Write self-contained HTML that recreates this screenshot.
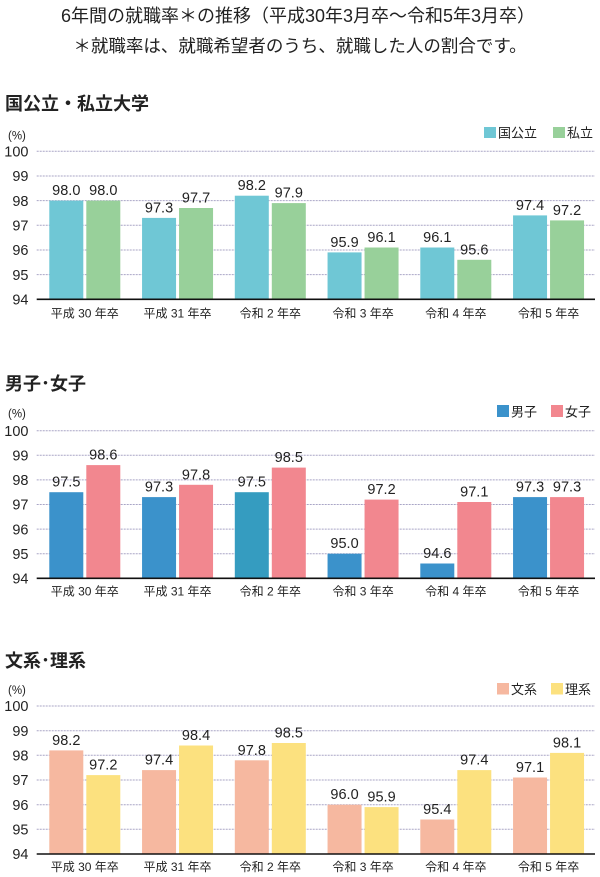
<!DOCTYPE html>
<html>
<head>
<meta charset="utf-8">
<style>
  html,body{margin:0;padding:0;background:#fff;}
  svg{display:block;}
  text{font-family:"Liberation Sans","Noto Sans CJK JP",sans-serif;fill:#222;}
  .t1{font-size:18px;}
  .t2{font-size:17.5px;}
  .h{font-size:18px;font-weight:bold;}
  .pc{font-size:11.5px;}
  .yl{font-size:14.5px;text-anchor:end;}
  .vl{font-size:14.5px;text-anchor:middle;}
  .cl{font-size:12px;text-anchor:middle;}
  .lg{font-size:13px;}
  .g{stroke:#a9a5c6;stroke-width:1;stroke-dasharray:2 1;}
  .ax{stroke:#111;stroke-width:1.6;}
</style>
</head>
<body>
<svg width="600" height="877" viewBox="0 0 600 877" xmlns="http://www.w3.org/2000/svg">
  <!-- Title -->
  <text class="t1" x="298" y="22" text-anchor="middle">6年間の就職率＊の推移（平成30年3月卒～令和5年3月卒）</text>
  <text class="t2" x="300" y="52" text-anchor="middle">＊就職率は、就職希望者のうち、就職した人の割合です。</text>

  <!-- ================= Chart 1 ================= -->
  <text class="h" x="5" y="110">国公立・私立大学</text>
  <text class="pc" x="8" y="139.5">(%)</text>
  <rect x="484" y="127" width="12" height="11" fill="#6fc7d5"/>
  <text class="lg" x="498" y="137.5">国公立</text>
  <rect x="553" y="127" width="12" height="11" fill="#98d09a"/>
  <text class="lg" x="567" y="137.5">私立</text>

  <line class="g" x1="36.7" y1="151.3" x2="595" y2="151.3"/>
  <line class="g" x1="36.7" y1="176.0" x2="595" y2="176.0"/>
  <line class="g" x1="36.7" y1="200.6" x2="595" y2="200.6"/>
  <line class="g" x1="36.7" y1="225.3" x2="595" y2="225.3"/>
  <line class="g" x1="36.7" y1="250.0" x2="595" y2="250.0"/>
  <line class="g" x1="36.7" y1="274.6" x2="595" y2="274.6"/>
  <text class="yl" x="28.5" y="156.5">100</text>
  <text class="yl" x="28.5" y="181.2">99</text>
  <text class="yl" x="28.5" y="205.8">98</text>
  <text class="yl" x="28.5" y="230.5">97</text>
  <text class="yl" x="28.5" y="255.2">96</text>
  <text class="yl" x="28.5" y="279.8">95</text>
  <text class="yl" x="28.5" y="304.5">94</text>

  <g fill="#6fc7d5">
    <rect x="49.3" y="200.6" width="34" height="98.7"/>
    <rect x="142.05" y="217.9" width="34" height="81.4"/>
    <rect x="234.8" y="195.7" width="34" height="103.6"/>
    <rect x="327.55" y="252.4" width="34" height="46.9"/>
    <rect x="420.3" y="247.5" width="34" height="51.8"/>
    <rect x="513.05" y="215.4" width="34" height="83.9"/>
  </g>
  <g fill="#98d09a">
    <rect x="86.3" y="200.6" width="34" height="98.7"/>
    <rect x="179.05" y="208.0" width="34" height="91.3"/>
    <rect x="271.8" y="203.1" width="34" height="96.2"/>
    <rect x="364.55" y="247.5" width="34" height="51.8"/>
    <rect x="457.3" y="259.8" width="34" height="39.5"/>
    <rect x="550.05" y="220.4" width="34" height="78.9"/>
  </g>
  <line class="ax" x1="36.7" y1="299.3" x2="595" y2="299.3"/>

  <text class="vl" x="66.3" y="195.1">98.0</text>
  <text class="vl" x="103.3" y="195.1">98.0</text>
  <text class="vl" x="159.05" y="212.4">97.3</text>
  <text class="vl" x="196.05" y="202.5">97.7</text>
  <text class="vl" x="251.8" y="190.2">98.2</text>
  <text class="vl" x="288.8" y="197.6">97.9</text>
  <text class="vl" x="344.55" y="246.9">95.9</text>
  <text class="vl" x="381.55" y="242.0">96.1</text>
  <text class="vl" x="437.3" y="242.0">96.1</text>
  <text class="vl" x="474.3" y="254.3">95.6</text>
  <text class="vl" x="530.05" y="209.9">97.4</text>
  <text class="vl" x="567.05" y="214.9">97.2</text>

  <text class="cl" x="84.8" y="317.3">平成 30 年卒</text>
  <text class="cl" x="177.55" y="317.3">平成 31 年卒</text>
  <text class="cl" x="270.3" y="317.3">令和 2 年卒</text>
  <text class="cl" x="363.05" y="317.3">令和 3 年卒</text>
  <text class="cl" x="455.8" y="317.3">令和 4 年卒</text>
  <text class="cl" x="548.55" y="317.3">令和 5 年卒</text>

  <!-- ================= Chart 2 ================= -->
  <text class="h" x="5" y="390">男子･女子</text>
  <text class="pc" x="8" y="417.5">(%)</text>
  <rect x="497" y="405" width="12" height="12" fill="#3b92cb"/>
  <text class="lg" x="511" y="416.5">男子</text>
  <rect x="551" y="405" width="12" height="12" fill="#f2878f"/>
  <text class="lg" x="565" y="416.5">女子</text>

  <line class="g" x1="36.7" y1="430.7" x2="595" y2="430.7"/>
  <line class="g" x1="36.7" y1="455.3" x2="595" y2="455.3"/>
  <line class="g" x1="36.7" y1="479.9" x2="595" y2="479.9"/>
  <line class="g" x1="36.7" y1="504.5" x2="595" y2="504.5"/>
  <line class="g" x1="36.7" y1="529.1" x2="595" y2="529.1"/>
  <line class="g" x1="36.7" y1="553.7" x2="595" y2="553.7"/>
  <text class="yl" x="28.5" y="435.9">100</text>
  <text class="yl" x="28.5" y="460.5">99</text>
  <text class="yl" x="28.5" y="485.1">98</text>
  <text class="yl" x="28.5" y="509.7">97</text>
  <text class="yl" x="28.5" y="534.3">96</text>
  <text class="yl" x="28.5" y="558.9">95</text>
  <text class="yl" x="28.5" y="583.5">94</text>

  <g fill="#3b92cb">
    <rect x="49.3" y="492.2" width="34" height="86.1"/>
    <rect x="142.05" y="497.1" width="34" height="81.2"/>
    <rect x="234.8" y="492.2" width="34" height="86.1" fill="#359cc0"/>
    <rect x="327.55" y="553.7" width="34" height="24.6"/>
    <rect x="420.3" y="563.5" width="34" height="14.8"/>
    <rect x="513.05" y="497.1" width="34" height="81.2"/>
  </g>
  <g fill="#f2878f">
    <rect x="86.3" y="465.1" width="34" height="113.2"/>
    <rect x="179.05" y="484.8" width="34" height="93.5"/>
    <rect x="271.8" y="467.6" width="34" height="110.7"/>
    <rect x="364.55" y="499.6" width="34" height="78.7"/>
    <rect x="457.3" y="502.0" width="34" height="76.3"/>
    <rect x="550.05" y="497.1" width="34" height="81.2"/>
  </g>
  <line class="ax" x1="36.7" y1="578.3" x2="595" y2="578.3"/>

  <text class="vl" x="66.3" y="486.7">97.5</text>
  <text class="vl" x="103.3" y="459.6">98.6</text>
  <text class="vl" x="159.05" y="491.6">97.3</text>
  <text class="vl" x="196.05" y="479.3">97.8</text>
  <text class="vl" x="251.8" y="486.7">97.5</text>
  <text class="vl" x="288.8" y="462.1">98.5</text>
  <text class="vl" x="344.55" y="548.2">95.0</text>
  <text class="vl" x="381.55" y="494.1">97.2</text>
  <text class="vl" x="437.3" y="558.0">94.6</text>
  <text class="vl" x="474.3" y="496.5">97.1</text>
  <text class="vl" x="530.05" y="491.6">97.3</text>
  <text class="vl" x="567.05" y="491.6">97.3</text>

  <text class="cl" x="84.8" y="595.3">平成 30 年卒</text>
  <text class="cl" x="177.55" y="595.3">平成 31 年卒</text>
  <text class="cl" x="270.3" y="595.3">令和 2 年卒</text>
  <text class="cl" x="363.05" y="595.3">令和 3 年卒</text>
  <text class="cl" x="455.8" y="595.3">令和 4 年卒</text>
  <text class="cl" x="548.55" y="595.3">令和 5 年卒</text>

  <!-- ================= Chart 3 ================= -->
  <text class="h" x="5" y="667">文系･理系</text>
  <text class="pc" x="8" y="694">(%)</text>
  <rect x="497" y="683" width="12" height="11.5" fill="#f6b8a0"/>
  <text class="lg" x="511" y="694">文系</text>
  <rect x="551" y="683" width="12" height="11.5" fill="#fce17f"/>
  <text class="lg" x="565" y="694">理系</text>

  <line class="g" x1="36.7" y1="706.0" x2="595" y2="706.0"/>
  <line class="g" x1="36.7" y1="730.7" x2="595" y2="730.7"/>
  <line class="g" x1="36.7" y1="755.3" x2="595" y2="755.3"/>
  <line class="g" x1="36.7" y1="780.0" x2="595" y2="780.0"/>
  <line class="g" x1="36.7" y1="804.7" x2="595" y2="804.7"/>
  <line class="g" x1="36.7" y1="829.3" x2="595" y2="829.3"/>
  <text class="yl" x="28.5" y="711.2">100</text>
  <text class="yl" x="28.5" y="735.9">99</text>
  <text class="yl" x="28.5" y="760.5">98</text>
  <text class="yl" x="28.5" y="785.2">97</text>
  <text class="yl" x="28.5" y="809.9">96</text>
  <text class="yl" x="28.5" y="834.5">95</text>
  <text class="yl" x="28.5" y="859.2">94</text>

  <g fill="#f6b8a0">
    <rect x="49.3" y="750.4" width="34" height="103.6"/>
    <rect x="142.05" y="770.1" width="34" height="83.9"/>
    <rect x="234.8" y="760.3" width="34" height="93.7"/>
    <rect x="327.55" y="804.7" width="34" height="49.3"/>
    <rect x="420.3" y="819.5" width="34" height="34.5"/>
    <rect x="513.05" y="777.5" width="34" height="76.5"/>
  </g>
  <g fill="#fce17f">
    <rect x="86.3" y="775.1" width="34" height="78.9"/>
    <rect x="179.05" y="745.5" width="34" height="108.5"/>
    <rect x="271.8" y="743.0" width="34" height="111.0"/>
    <rect x="364.55" y="807.1" width="34" height="46.9"/>
    <rect x="457.3" y="770.1" width="34" height="83.9"/>
    <rect x="550.05" y="752.9" width="34" height="101.1"/>
  </g>
  <line class="ax" x1="36.7" y1="854" x2="595" y2="854"/>

  <text class="vl" x="66.3" y="744.9">98.2</text>
  <text class="vl" x="103.3" y="769.6">97.2</text>
  <text class="vl" x="159.05" y="764.6">97.4</text>
  <text class="vl" x="196.05" y="740.0">98.4</text>
  <text class="vl" x="251.8" y="754.8">97.8</text>
  <text class="vl" x="288.8" y="737.5">98.5</text>
  <text class="vl" x="344.55" y="799.2">96.0</text>
  <text class="vl" x="381.55" y="801.6">95.9</text>
  <text class="vl" x="437.3" y="814.0">95.4</text>
  <text class="vl" x="474.3" y="764.6">97.4</text>
  <text class="vl" x="530.05" y="772.0">97.1</text>
  <text class="vl" x="567.05" y="747.4">98.1</text>

  <text class="cl" x="84.8" y="871">平成 30 年卒</text>
  <text class="cl" x="177.55" y="871">平成 31 年卒</text>
  <text class="cl" x="270.3" y="871">令和 2 年卒</text>
  <text class="cl" x="363.05" y="871">令和 3 年卒</text>
  <text class="cl" x="455.8" y="871">令和 4 年卒</text>
  <text class="cl" x="548.55" y="871">令和 5 年卒</text>
</svg>
</body>
</html>
